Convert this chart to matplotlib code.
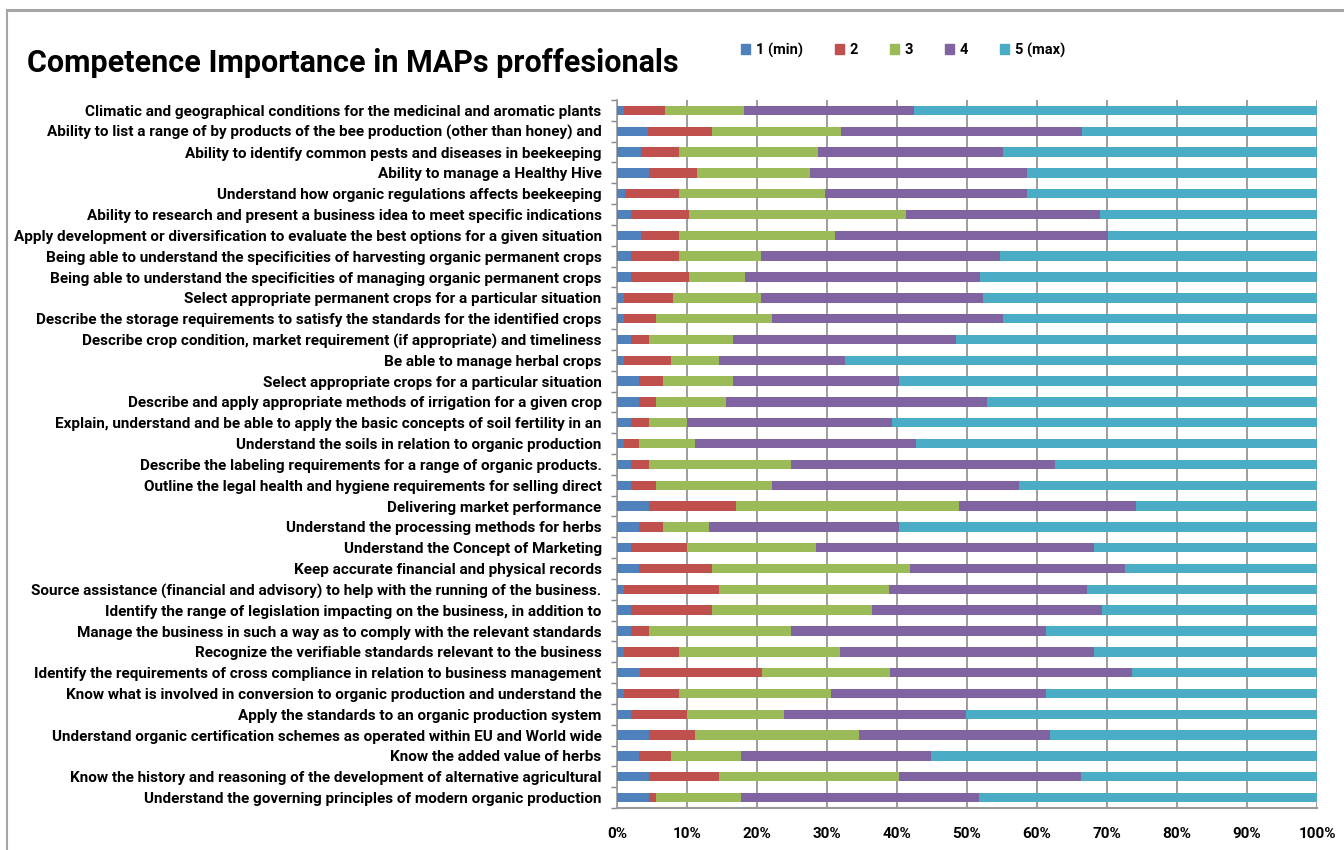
import matplotlib
matplotlib.use("Agg")
import matplotlib.pyplot as plt
import numpy as np
from matplotlib.lines import Line2D
from matplotlib.patches import Patch

categories = [
    "Climatic and geographical conditions for the medicinal and aromatic plants",
    "Ability to list a range of by products of the bee production (other than honey) and",
    "Ability to identify common pests and diseases in beekeeping",
    "Ability to manage a Healthy Hive",
    "Understand how organic regulations affects beekeeping",
    "Ability to research and present a business idea to meet specific indications",
    "Apply development or diversification to evaluate the best options for a given situation",
    "Being able to understand the specificities of harvesting organic permanent crops",
    "Being able to understand the specificities of managing organic permanent crops",
    "Select appropriate permanent crops for a particular situation",
    "Describe the storage requirements to satisfy the standards for the identified crops",
    "Describe crop condition, market requirement (if appropriate) and timeliness",
    "Be able to manage herbal crops",
    "Select appropriate crops for a particular situation",
    "Describe and apply appropriate methods of irrigation for a given crop",
    "Explain, understand and be able to apply the basic concepts of soil fertility in an",
    "Understand the soils in relation to organic production",
    "Describe the labeling requirements for a range of organic products.",
    "Outline the legal health and hygiene requirements for selling direct",
    "Delivering market performance",
    "Understand the processing methods for herbs",
    "Understand the Concept of Marketing",
    "Keep accurate financial and physical records",
    "Source assistance (financial and advisory) to help with the running of the business.",
    "Identify the range of legislation impacting on the business, in addition to",
    "Manage the business in such a way as to comply with the relevant standards",
    "Recognize the verifiable standards relevant to the business",
    "Identify the requirements of cross compliance in relation to business management",
    "Know what is involved in conversion to organic production and understand the",
    "Apply the standards to an organic production system",
    "Understand organic certification schemes as operated within EU and World wide",
    "Know the added value of herbs",
    "Know the history and reasoning of the development of alternative agricultural",
    "Understand the governing principles of modern organic production",
]

series_names = ["1 (min)", "2", "3", "4", "5 (max)"]

s1 = [1.0, 4.4, 3.4, 4.5, 1.1, 2.0, 3.4, 2.0, 2.0, 1.0, 1.0, 2.0, 1.0, 3.1, 3.1, 2.0, 1.0,
      2.0, 2.0, 4.5, 3.1, 2.0, 3.1, 1.0, 2.0, 2.0, 1.0, 3.3, 1.0, 2.0, 4.5, 3.1, 4.5, 4.5]
s2 = [5.8, 9.2, 5.5, 6.9, 7.8, 8.3, 5.5, 6.9, 8.3, 7.0, 4.5, 2.5, 6.7, 3.4, 2.4, 2.5, 2.1,
      2.5, 3.6, 12.5, 3.4, 8.0, 10.4, 13.5, 11.5, 2.5, 7.9, 17.4, 7.9, 8.0, 6.7, 4.6, 10.0, 1.0]
s3 = [11.4, 18.4, 19.8, 16.2, 20.8, 31.0, 22.2, 11.6, 8.0, 12.5, 16.7, 12.1, 6.8, 10.1, 10.1, 5.5, 8.1,
      20.4, 16.6, 31.8, 6.7, 18.4, 28.4, 24.3, 22.9, 20.4, 23.0, 18.3, 21.6, 13.8, 23.4, 10.0, 25.8, 12.2]
s4 = [24.2, 34.4, 26.5, 31.0, 28.9, 27.7, 39.0, 34.2, 33.5, 31.8, 33.0, 31.8, 18.1, 23.7, 37.2, 29.3, 31.5,
      37.7, 35.2, 25.3, 27.1, 39.8, 30.7, 28.4, 32.9, 36.4, 36.3, 34.5, 30.8, 26.1, 27.2, 27.1, 26.0, 34.0]
s5 = [57.6, 33.6, 44.8, 41.4, 41.4, 31.0, 29.9, 45.3, 48.2, 47.7, 44.8, 51.6, 67.4, 59.7, 47.2, 60.7, 57.3,
      37.4, 42.6, 25.9, 59.7, 31.8, 27.4, 32.8, 30.7, 38.7, 31.8, 26.5, 38.7, 50.1, 38.2, 55.2, 33.7, 48.3]

x_ticks = [0, 10, 20, 30, 40, 50, 60, 70, 80, 90, 100]
x_tick_labels = ["0%", "10%", "20%", "30%", "40%", "50%", "60%", "70%", "80%", "90%", "100%"]

colors = ["#4F81BD", "#C0504D", "#9BBB59", "#8064A2", "#4BACC6"]

plt.rcParams["font.family"] = ["Roboto", "DejaVu Sans"]

fig = plt.figure(figsize=(13.44, 8.5), dpi=100)
W, H = 1344, 850
ax = fig.add_axes([617 / W, 42 / H, 700 / W, 708 / H])

data = np.array([s1, s2, s3, s4, s5])
totals = data.sum(axis=0)
pct = data / totals * 100
y = np.arange(len(categories))
left = np.zeros(len(categories))
handles = []
for i, name in enumerate(series_names):
    ax.barh(y, pct[i], left=left, height=0.45, color=colors[i], label=name, zorder=3)
    left += pct[i]
    handles.append(Patch(color=colors[i], label=name))

ax.set_ylim(len(categories) - 0.5, -0.5)
ax.set_xlim(0, 100)
ax.set_yticks(y)
ax.set_yticklabels(categories, fontsize=11, fontweight="bold")
ax.tick_params(axis="y", length=0, pad=11)
ax.set_yticks(np.arange(len(categories) + 1) - 0.5, minor=True)
ax.tick_params(axis="y", which="minor", length=4, color="#888888", width=1)
ax.set_xticks(x_ticks)
ax.set_xticklabels(x_tick_labels, fontsize=11, fontweight="bold")
ax.tick_params(axis="x", length=0, pad=14)
ax.grid(axis="x", color="#8C8C8C", linewidth=1.2, zorder=0)
for s in ["top", "right"]:
    ax.spines[s].set_visible(False)
ax.spines["left"].set_color("#999999")
ax.spines["bottom"].set_color("#999999")
ax.spines["left"].set_linewidth(1.2)
ax.spines["bottom"].set_linewidth(1.5)

fig.text(27 / W, 1 - 63 / H, "Competence Importance in MAPs proffesionals", fontsize=22,
         fontweight="bold", va="center", ha="left")

fig.legend(handles=handles, loc="center left", bbox_to_anchor=(728 / W, 1 - 50 / H), ncol=5,
           frameon=False, prop={"weight": "bold", "size": 10.5},
           handlelength=0.6, handleheight=0.6, handletextpad=0.4, columnspacing=2.2)

# chart frame
fig.add_artist(Line2D([7 / W, 1], [1 - 10 / H, 1 - 10 / H], color="#A6A6A6", linewidth=2.2,
                      transform=fig.transFigure))
fig.add_artist(Line2D([7 / W, 7 / W], [0, 1 - 10 / H], color="#A6A6A6", linewidth=1.5,
                      transform=fig.transFigure))

fig.savefig("out.png", dpi=100, facecolor="white")
